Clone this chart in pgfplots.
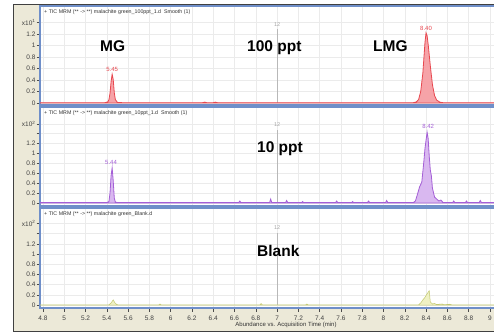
\documentclass[border=0pt]{standalone}
\usepackage{fontspec}
\setmainfont{Liberation Sans}
\usepackage{pgfplots}
\pgfplotsset{compat=1.18}
\definecolor{frame}{HTML}{ECE9D8}
\definecolor{bord}{HTML}{6F8FC9}
\definecolor{redl}{HTML}{E8474F}
\definecolor{redf}{HTML}{F6A3A8}
\definecolor{purl}{HTML}{A45FD6}
\definecolor{purf}{HTML}{D9B8F0}
\definecolor{olvl}{HTML}{C2C870}
\definecolor{olvf}{HTML}{EFF1C4}
\definecolor{gridc}{HTML}{EBEBEB}
\pgfplotsset{panel/.style={
  at={(40pt,#1)}, anchor=south west, scale only axis, width=457pt,
  xmin=4.772, xmax=9.067,
  axis line style={draw=bord, line width=1.1pt},
  axis background/.style={fill=white},
  grid=major, grid style={gridc, line width=0.5pt},
  xtick={4.8,5,5.2,5.4,5.6,5.8,6,6.2,6.4,6.6,6.8,7,7.2,7.4,7.6,7.8,8,8.2,8.4,8.6,8.8,9},
  ytick pos=left, xtick pos=bottom, tick align=outside,
  major tick length=3.5pt, tick style={black!70, line width=0.5pt},
  tick label style={font=\fontsize{6.5}{7}\selectfont, text=black!75},
  yticklabel style={inner sep=0.8pt},
  /pgf/number format/assume math mode=true,
  clip=true,
}}
\newcommand{\hdr}[1]{\node[anchor=north west, inner sep=0, font=\fontsize{5.3}{6}\selectfont, text=black!80, xshift=4pt, yshift=-3pt] at (rel axis cs:0,1) {+ TIC MRM (** -> **) #1};}
\begin{document}
\begin{tikzpicture}
\useasboundingbox (0,0) rectangle (494pt,333pt);
\fill[white] (0,0) rectangle (494pt,333pt);
\fill[frame] (13pt,2pt) rectangle (500pt,328pt);
\draw[black!75, line width=1pt] (500pt,328pt) -- (13pt,328pt) -- (13pt,2pt) -- (500pt,2pt);
% ---------- Panel 1: 100 ppt ----------
\begin{axis}[panel=228pt, height=99pt, ymin=-0.035, ymax=1.687,
  ytick={0,0.2,0.4,0.6,0.8,1,1.2,1.4},
  yticklabels={0,0.2,0.4,0.6,0.8,1,1.2,x10\textsuperscript{1}},
  xticklabels={}, xtick style={draw=none}]
\addplot[draw=black!28, line width=0.5pt] coordinates {(7,0) (7,1.29)};
\addplot[draw=redl, line width=0.8pt, fill=redf] coordinates {
(4.77,0.005) (5.38,0.005) (5.41,0.02) (5.42,0.06) (5.43,0.17) (5.44,0.37) (5.45,0.50) (5.46,0.41) (5.47,0.18) (5.48,0.06) (5.50,0.01) (5.55,0.005) (6.30,0.005) (6.32,0.015) (6.34,0.005) (6.40,0.005) (6.42,0.015) (6.44,0.005) (8.28,0.005) (8.31,0.02) (8.33,0.06) (8.35,0.20) (8.37,0.52) (8.39,1.05) (8.40,1.22) (8.41,1.17) (8.42,1.02) (8.44,0.65) (8.46,0.32) (8.48,0.13) (8.50,0.05) (8.53,0.015) (8.56,0.005) (9.07,0.005)} \closedcycle;
\node[font=\fontsize{5.5}{6}\selectfont, text=black!35] at (axis cs:7,1.37) {12};
\node[font=\fontsize{6}{7}\selectfont, text=redl] at (axis cs:5.45,0.59) {5.45};
\node[font=\fontsize{6}{7}\selectfont, text=redl] at (axis cs:8.40,1.29) {8.40};
\hdr{malachite green\_100ppt\_1.d \ Smooth (1)}
\end{axis}
% ---------- Panel 2: 10 ppt ----------
\begin{axis}[panel=127pt, height=99pt, ymin=-0.0606, ymax=1.939,
  ytick={0,0.2,0.4,0.6,0.8,1,1.2,1.4,1.6},
  yticklabels={0,0.2,0.4,0.6,0.8,1,1.2,,x10\textsuperscript{2}},
  xticklabels={}, xtick style={draw=none}]
\addplot[draw=black!28, line width=0.5pt] coordinates {(7,0) (7,1.47)};
\addplot[draw=purl, line width=0.8pt, fill=purf] coordinates {
(4.77,0.01) (5.40,0.01) (5.42,0.03) (5.43,0.2) (5.44,0.55) (5.45,0.71) (5.46,0.45) (5.47,0.1) (5.48,0.02) (5.50,0.01) (6.64,0.01) (6.65,0.04) (6.66,0.01) (6.93,0.01) (6.94,0.08) (6.95,0.01) (7.08,0.01) (7.09,0.05) (7.10,0.01) (7.23,0.01) (7.24,0.03) (7.25,0.01) (7.55,0.01) (7.56,0.04) (7.57,0.01) (7.70,0.01) (7.71,0.03) (7.72,0.01) (7.85,0.01) (7.86,0.04) (7.87,0.01) (8.02,0.01) (8.03,0.05) (8.04,0.01) (8.28,0.01) (8.30,0.04) (8.32,0.18) (8.34,0.33) (8.36,0.42) (8.38,0.85) (8.39,1.1) (8.41,1.43) (8.42,1.3) (8.43,0.95) (8.44,0.67) (8.45,0.55) (8.46,0.3) (8.48,0.12) (8.50,0.08) (8.52,0.04) (8.54,0.06) (8.56,0.01) (8.65,0.01) (8.66,0.04) (8.67,0.01) (8.77,0.01) (8.78,0.04) (8.79,0.01) (8.90,0.01) (8.91,0.05) (8.92,0.01) (9.07,0.01)} \closedcycle;
\node[font=\fontsize{5.5}{6}\selectfont, text=black!35] at (axis cs:7,1.58) {12};
\node[font=\fontsize{6}{7}\selectfont, text=purl] at (axis cs:5.44,0.81) {5.44};
\node[font=\fontsize{6}{7}\selectfont, text=purl] at (axis cs:8.42,1.54) {8.42};
\hdr{malachite green\_10ppt\_1.d \ Smooth (1)}
\end{axis}
% ---------- Panel 3: Blank ----------
\begin{axis}[panel=25pt, height=100pt, ymin=-0.0588, ymax=1.902,
  ytick={0,0.2,0.4,0.6,0.8,1,1.2,1.4,1.6},
  yticklabels={0,0.2,0.4,0.6,0.8,1,1.2,,x10\textsuperscript{2}},
  xticklabels={4.8,5,5.2,5.4,5.6,5.8,6,6.2,6.4,6.6,6.8,7,7.2,7.4,7.6,7.8,8,8.2,8.4,8.6,8.8,9},
  xticklabel style={yshift=-1pt}]
\addplot[draw=black!28, line width=0.5pt] coordinates {(7,0) (7,1.41)};
\addplot[draw=olvl, line width=0.5pt, fill=olvf] coordinates {
(4.77,0.005) (5.42,0.005) (5.44,0.04) (5.46,0.1) (5.48,0.03) (5.50,0.005) (5.89,0.005) (5.90,0.02) (5.91,0.005) (6.84,0.005) (6.85,0.03) (6.86,0.005) (7.27,0.005) (7.28,0.02) (7.29,0.005) (8.33,0.005) (8.35,0.04) (8.37,0.10) (8.39,0.15) (8.41,0.22) (8.43,0.28) (8.44,0.06) (8.46,0.02) (8.48,0.03) (8.50,0.01) (8.55,0.02) (8.57,0.005) (8.62,0.015) (8.64,0.005) (9.07,0.005)} \closedcycle;
\node[font=\fontsize{5.5}{6}\selectfont, text=black!35] at (axis cs:7,1.51) {12};
\draw[bord, line width=1.8pt] (rel axis cs:0,0) -- (rel axis cs:1,0);
\hdr{malachite green\_Blank.d}
\end{axis}
% ---------- annotations ----------
\node[anchor=base west, inner sep=0, font=\bfseries\fontsize{15.5}{16}\selectfont] at (100pt,282pt) {MG};
\node[anchor=base west, inner sep=0, font=\bfseries\fontsize{15.5}{16}\selectfont] at (247pt,282pt) {100 ppt};
\node[anchor=base west, inner sep=0, font=\bfseries\fontsize{15.5}{16}\selectfont] at (373pt,282pt) {LMG};
\node[anchor=base west, inner sep=0, font=\bfseries\fontsize{15.5}{16}\selectfont] at (257pt,181pt) {10 ppt};
\node[anchor=base west, inner sep=0, font=\bfseries\fontsize{15.5}{16}\selectfont] at (257pt,77pt) {Blank};
\node[font=\fontsize{6}{7}\selectfont, text=black!80] at (286pt,8pt) {Abundance vs. Acquisition Time (min)};
\end{tikzpicture}
\end{document}
